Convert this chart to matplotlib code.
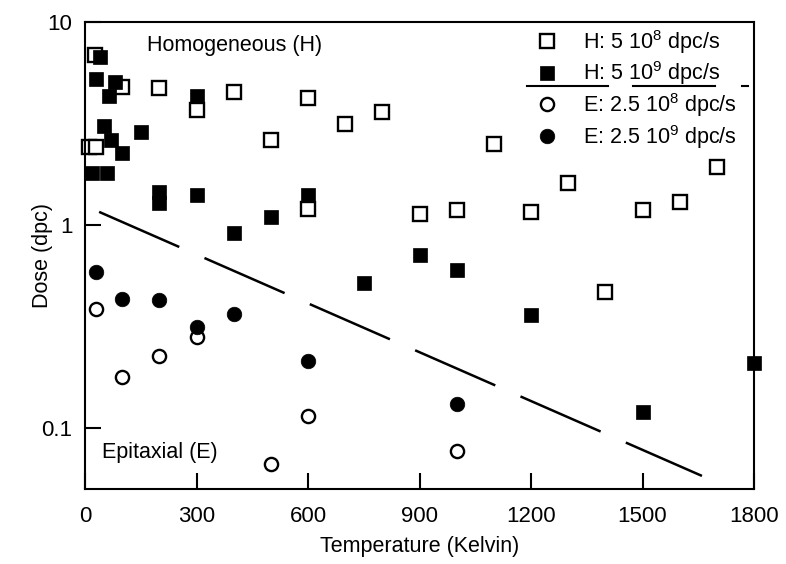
import matplotlib
matplotlib.use("Agg")
import matplotlib.pyplot as plt
from matplotlib.lines import Line2D

plt.rcParams['font.family'] = ['Liberation Sans', 'DejaVu Sans']
plt.rcParams['mathtext.default'] = 'regular'

# H: 5 10^8 dpc/s (open squares)
h_low_T = [10, 27, 30, 100, 200, 300, 400, 500, 600, 600, 700, 800, 900,
           1000, 1100, 1200, 1300, 1400, 1500, 1600, 1700]
h_low_dose = [2.42, 6.9, 2.42, 4.8, 4.73, 3.69, 4.52, 2.62, 4.22, 1.20, 3.14,
              3.60, 1.13, 1.19, 2.51, 1.16, 1.61, 0.47, 1.19, 1.30, 1.93]

# H: 5 10^9 dpc/s (filled squares)
h_high_T = [20, 30, 40, 50, 60, 65, 70, 80, 100, 150, 200, 200, 300, 300,
            400, 500, 600, 750, 900, 1000, 1200, 1500, 1800]
h_high_dose = [1.80, 5.24, 6.72, 3.07, 1.80, 4.3, 2.62, 5.06, 2.26, 2.87,
               1.45, 1.28, 4.32, 1.41, 0.91, 1.09, 1.41, 0.52, 0.71, 0.60,
               0.36, 0.12, 0.21]

# E: 2.5 10^8 dpc/s (open circles)
e_low_T = [30, 100, 200, 300, 500, 600, 1000]
e_low_dose = [0.386, 0.178, 0.226, 0.281, 0.0665, 0.115, 0.077]

# E: 2.5 10^9 dpc/s (filled circles)
e_high_T = [30, 100, 200, 300, 400, 600, 1000]
e_high_dose = [0.587, 0.432, 0.427, 0.315, 0.365, 0.214, 0.131]

# dashed trend line
fit_T = [38, 1660]
fit_dose = [1.16, 0.058]

xticks = [0, 300, 600, 900, 1200, 1500, 1800]
yticks = [0.1, 1, 10]
ytick_labels = ['0.1', '1', '10']

fig = plt.figure(figsize=(7.86, 5.64), dpi=100)
ax = fig.add_axes([85/786, 1-489/564, (754-85)/786, (489-22)/564])

ms = 9.5
mew = 1.7
ax.plot(h_low_T, h_low_dose, 's', ms=ms, mfc='white', mec='black', mew=mew,
        clip_on=False, label='H: 5 10$^{8}$ dpc/s')
ax.plot(h_high_T, h_high_dose, 's', ms=ms + 1, mfc='black', mec='black', mew=0.5,
        clip_on=False, label='H: 5 10$^{9}$ dpc/s')
ax.plot(e_low_T, e_low_dose, 'o', ms=ms, mfc='white', mec='black', mew=mew,
        clip_on=False, label='E: 2.5 10$^{8}$ dpc/s')
ax.plot(e_high_T, e_high_dose, 'o', ms=ms + 1, mfc='black', mec='black', mew=0.5,
        clip_on=False, label='E: 2.5 10$^{9}$ dpc/s')

line, = ax.plot(fit_T, fit_dose, '-', color='black', lw=1.8)
line.set_dashes((35, 11))

ax.set_yscale('log')
ax.set_xlim(0, 1800)
ax.set_ylim(0.05, 10)
ax.set_xticks(xticks)
ax.set_yticks(yticks)
ax.set_yticklabels(ytick_labels)
ax.minorticks_off()
ax.tick_params(axis='both', direction='in', length=11.5, width=1.5,
               labelsize=16, top=False, right=False)
ax.tick_params(axis='x', pad=12)
ax.tick_params(axis='y', pad=9)
for sp in ax.spines.values():
    sp.set_linewidth(1.5)

ax.set_xlabel('Temperature (Kelvin)', fontsize=15.5, labelpad=7)
ax.set_ylabel('Dose (dpc)', fontsize=15.5)
ax.yaxis.set_label_coords(-0.048, 0.5)

ax.text(0.093, 0.949, 'Homogeneous (H)', transform=ax.transAxes,
        fontsize=15.5, va='center', ha='left')
ax.text(0.025, 0.079, 'Epitaxial (E)', transform=ax.transAxes,
        fontsize=15.5, va='center', ha='left')

ax.legend(loc='upper left', bbox_to_anchor=(536/786, 1-28/564),
          bbox_transform=fig.transFigure, frameon=False, fontsize=15.5,
          handlelength=1.0, handletextpad=1.2, labelspacing=0.17,
          borderpad=0, borderaxespad=0, numpoints=1)

# stray rule lines under the second legend row
for x0, x1 in [(527, 608), (633, 715), (742, 748)]:
    fig.add_artist(Line2D([x0/786, x1/786], [1-86/564, 1-86/564],
                          color='black', lw=1.5, transform=fig.transFigure))

fig.savefig('out.png', dpi=100)
